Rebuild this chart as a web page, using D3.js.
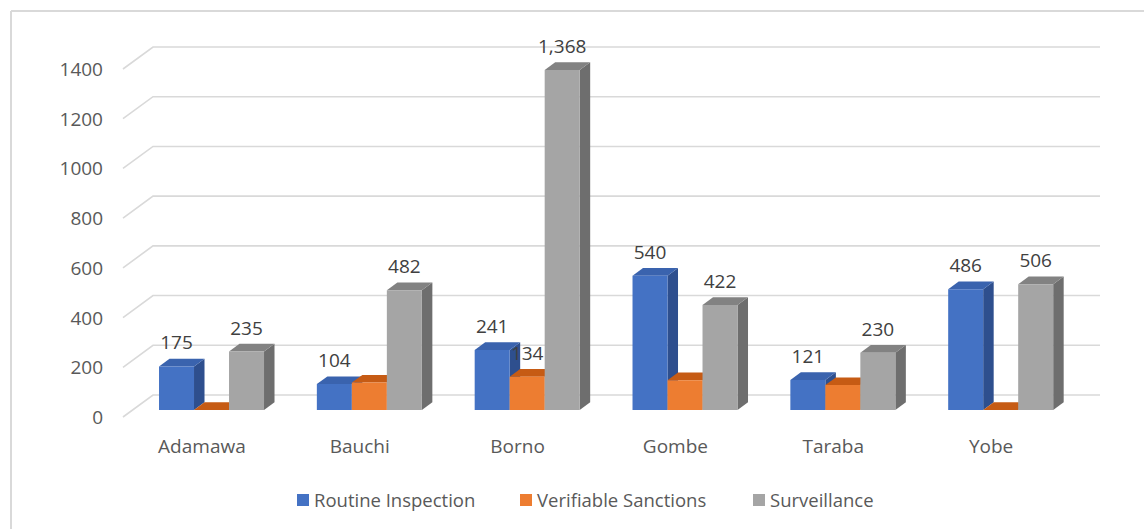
<!DOCTYPE html>
<html>
<head>
<meta charset="utf-8">
<script src="https://cdn.jsdelivr.net/npm/d3@7"></script>
<style>
  html, body { margin: 0; padding: 0; background: #fff; }
  svg { display: block; font-family: "Open Sans", sans-serif; }
</style>
</head>
<body>
<svg id="chart" width="1144" height="529"></svg>
<script>
// ---- data ----
const categories = ["Adamawa", "Bauchi", "Borno", "Gombe", "Taraba", "Yobe"];
const seriesNames = ["Routine Inspection", "Verifiable Sanctions", "Surveillance"];
const routineInspection = [175, 104, 241, 540, 121, 486];
const verifiableSanctions = [0, 110, 134, 120, 100, 0];
const surveillance = [235, 482, 1368, 422, 230, 506];
// which bars carry a visible value label (as in the original)
const showLabel = [
  [true, true, true, true, true, true],
  [false, false, true, false, false, false],
  [true, true, true, true, true, true]
];
const yTicks = [0, 200, 400, 600, 800, 1000, 1200, 1400];

const seriesValues = [routineInspection, verifiableSanctions, surveillance];

// ---- styles ----
const faceColors = [
  { front: "#4472C4", side: "#2E4F8E", top: "#3A63AE" },
  { front: "#ED7D31", side: "#B9560F", top: "#C65B14" },
  { front: "#A5A5A5", side: "#6E6E6E", top: "#828282" }
];
const gridColor = "#D9D9D9";

const svg = d3.select("#chart");

// frame (only left and top edges are inside the picture)
svg.append("line").attr("x1", 11).attr("y1", 11).attr("x2", 11).attr("y2", 529)
  .attr("stroke", gridColor).attr("stroke-width", 2);
svg.append("line").attr("x1", 11).attr("y1", 11).attr("x2", 1144).attr("y2", 11)
  .attr("stroke", gridColor).attr("stroke-width", 2);

// ---- 3D geometry ----
const backLeft = 153, backRight = 1100;
const depthDX = -30, depthDY = 22;        // vector from back wall to front edge of floor
const barFrontDepth = 0.68, barBackDepth = 0.33;

const y = d3.scaleLinear().domain([0, 1400]).range([395, 47]); // back wall
const x = d3.scaleBand().domain(categories).range([backLeft, backRight]).paddingInner(0).paddingOuter(0);
const groupWidth = 105;
const xs = d3.scaleBand().domain(seriesNames).range([0, groupWidth]);

// gridlines (back wall + left wall diagonals)
const g = svg.append("g");
yTicks.forEach(t => {
  const yb = y(t);
  g.append("path")
    .attr("d", `M${backLeft + depthDX},${yb + depthDY} L${backLeft},${yb} L${backRight},${yb}`)
    .attr("fill", "none").attr("stroke", gridColor).attr("stroke-width", 1.6);
});

// y tick labels
svg.append("g").selectAll("text").data(yTicks).join("text")
  .attr("x", 103).attr("y", d => y(d) + depthDY + 7)
  .attr("text-anchor", "end").attr("font-size", 19).attr("fill", "#595959")
  .text(d => d);

// category labels (front edge of floor)
svg.append("g").selectAll("text").data(categories).join("text")
  .attr("x", d => x(d) + x.bandwidth() / 2 + depthDX)
  .attr("y", 453)
  .attr("text-anchor", "middle").attr("font-size", 19).attr("fill", "#595959")
  .text(d => d);

// bars
const fdx = depthDX * barFrontDepth, fdy = depthDY * barFrontDepth;
const bdx = depthDX * barBackDepth, bdy = depthDY * barBackDepth;
const bars = svg.append("g");
const fmt = d3.format(",");
const labels = [];
categories.forEach((cat, ci) => {
  const gx = x(cat) + (x.bandwidth() - groupWidth) / 2;
  seriesNames.forEach((s, si) => {
    const v = seriesValues[si][ci];
    const x0 = gx + xs(s), x1 = x0 + xs.bandwidth();
    const yb0 = y(0), yt = y(v);
    const c = faceColors[si];
    // front face
    const F = (px, py) => [px + fdx, py + fdy];
    const B = (px, py) => [px + bdx, py + bdy];
    const poly = pts => "M" + pts.map(p => p.join(",")).join("L") + "Z";
    // side face (right)
    bars.append("path").attr("d", poly([F(x1, yb0), B(x1, yb0), B(x1, yt), F(x1, yt)]))
      .attr("fill", c.side);
    // top face
    bars.append("path").attr("d", poly([F(x0, yt), F(x1, yt), B(x1, yt), B(x0, yt)]))
      .attr("fill", c.top);
    // front face
    if (v > 0) {
      bars.append("path").attr("d", poly([F(x0, yb0), F(x1, yb0), F(x1, yt), F(x0, yt)]))
        .attr("fill", c.front);
    }
    if (showLabel[si][ci]) {
      labels.push({ x: (x0 + x1) / 2 + fdx, y: yt + fdy - 17, t: fmt(v) });
    }
  });
});

svg.append("g").selectAll("text").data(labels).join("text")
  .attr("x", d => d.x).attr("y", d => d.y)
  .attr("text-anchor", "middle").attr("font-size", 19).attr("fill", "#404040")
  .text(d => d.t);

// legend
const legendX = [297, 520, 753];
const lg = svg.append("g");
seriesNames.forEach((s, i) => {
  lg.append("rect").attr("x", legendX[i]).attr("y", 494).attr("width", 12).attr("height", 12)
    .attr("fill", faceColors[i].front);
  lg.append("text").attr("x", legendX[i] + 17).attr("y", 507)
    .attr("font-size", 18.5).attr("fill", "#595959").text(s);
});
</script>
</body>
</html>
